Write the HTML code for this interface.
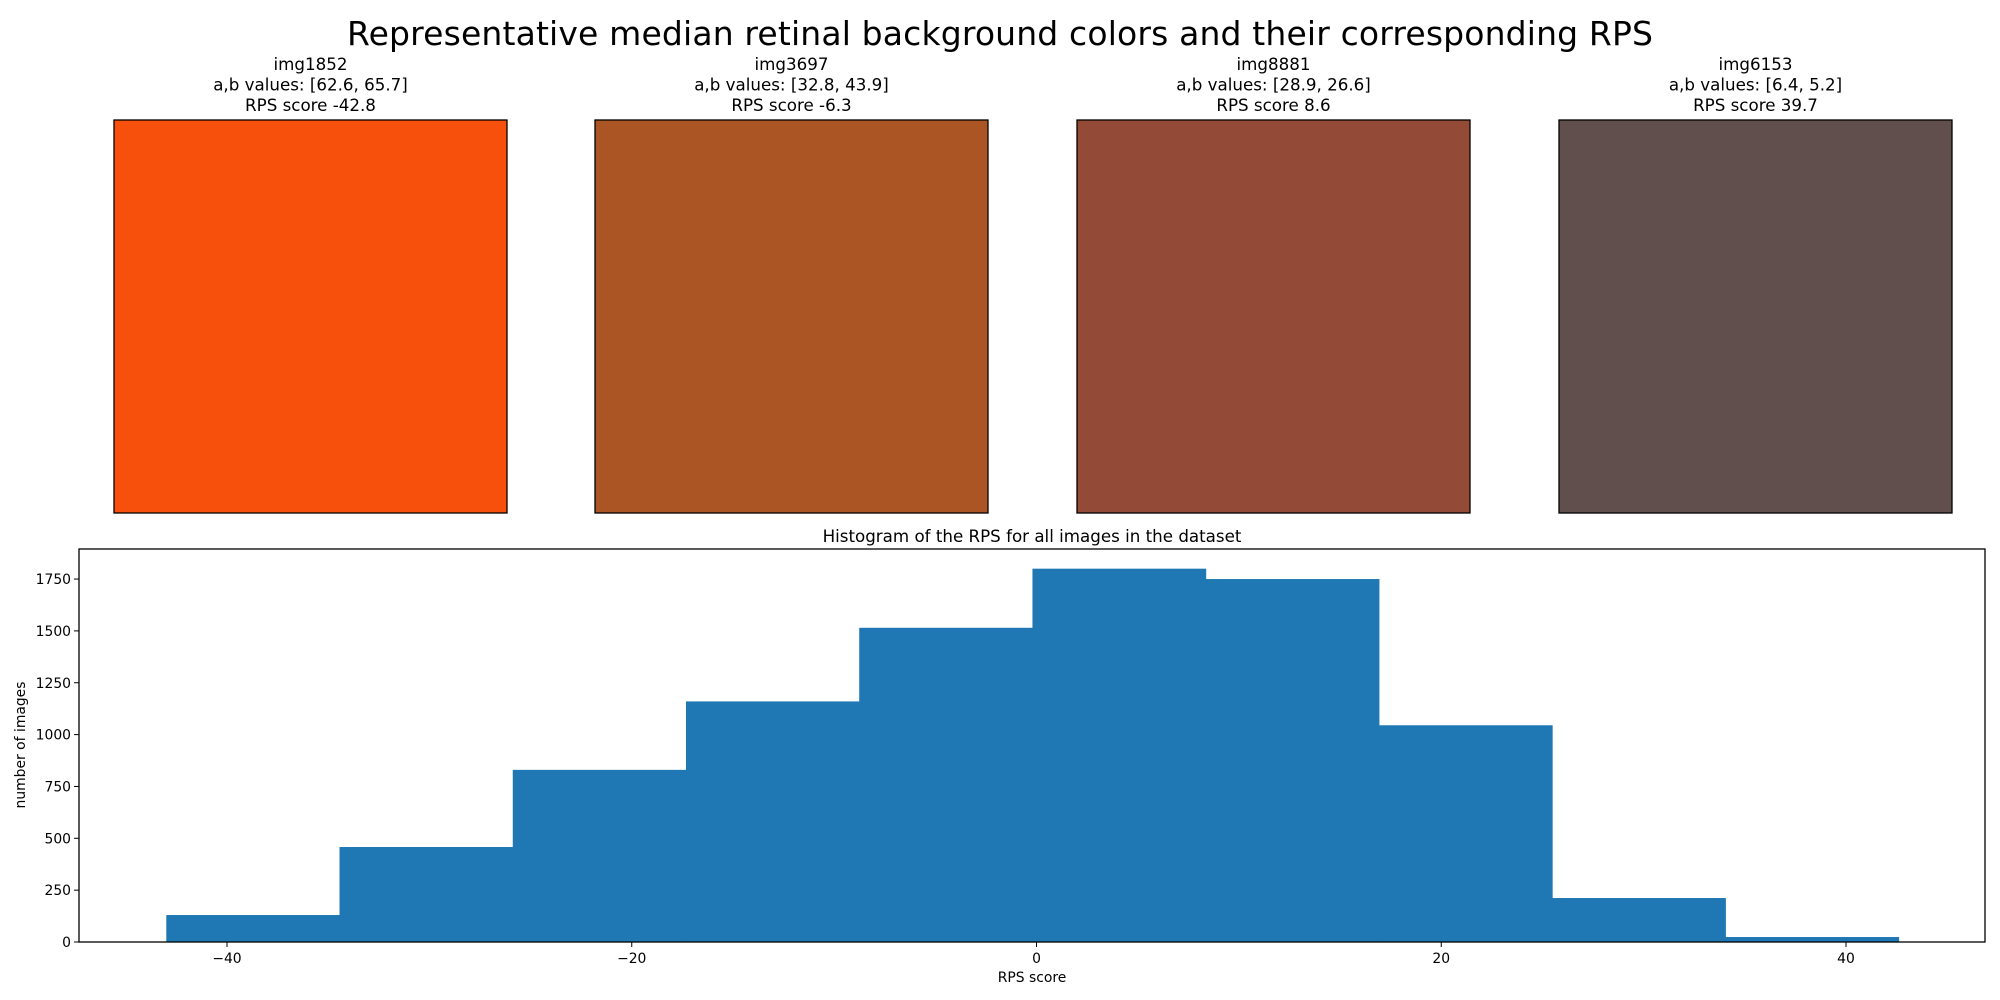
<!DOCTYPE html>
<html><head><meta charset="utf-8"><style>
html,body{margin:0;padding:0;background:#fff;}
svg{display:block;font-family:"DejaVu Sans","Liberation Sans",sans-serif;}
</style></head><body>
<svg id="fig" width="2000" height="1000" viewBox="0 0 2000 1000">
<text x="1000" y="45" font-size="33" text-anchor="middle" textLength="1306">Representative median retinal background colors and their corresponding RPS</text>
<g id="swatches"></g>
<text x="1032" y="542" font-size="16.7" text-anchor="middle">Histogram of the RPS for all images in the dataset</text>
<g id="hist"></g>
<rect x="79" y="549" width="1906" height="393" fill="none" stroke="#000" stroke-width="1.3"/>
<text x="1032" y="982" font-size="13.9" text-anchor="middle">RPS score</text>
<text transform="translate(25,745) rotate(-90)" font-size="13.9" text-anchor="middle">number of images</text>
</svg>
<script>
const swatchNames = ["img1852","img3697","img8881","img6153"];
const swatchAB = ["[62.6, 65.7]","[32.8, 43.9]","[28.9, 26.6]","[6.4, 5.2]"];
const swatchRPS = ["-42.8","-6.3","8.6","39.7"];
const swatchColors = ["#f74f0c","#aa5523","#934a37","#604f4c"];
const binStart = -43.0;
const binEnd = 42.6;
const counts = [130, 458, 830, 1160, 1515, 1800, 1750, 1045, 212, 24];
const xTicks = [-40, -20, 0, 20, 40];
const yTicks = [0, 250, 500, 750, 1000, 1250, 1500, 1750];

const NS = "http://www.w3.org/2000/svg";
function mk(tag, attrs, parent){const e=document.createElementNS(NS,tag);for(const k in attrs)e.setAttribute(k,attrs[k]);parent.appendChild(e);return e;}

const sw = document.getElementById('swatches');
const swLeft = [114, 595, 1077, 1559];
swatchNames.forEach((n,i)=>{
  const cx = swLeft[i] + 196.5;
  const r = mk('rect',{x:swLeft[i],y:120,width:393,height:393,fill:swatchColors[i],stroke:'#000','stroke-width':1.3},sw);
  
  
  const lines=[n,'a,b values: '+swatchAB[i],'RPS score '+swatchRPS[i]];
  lines.forEach((l,j)=>{
    const t = mk('text',{x:cx,y:70+j*20.5,'font-size':16.7,'text-anchor':'middle'},sw);
    t.textContent=l;
    
    
  });
});

const L=79,R=1985,T=549,B=942;
const xs = v => 1036.5 + v*20.2375;
const ys = v => B - v*0.2074;
const h = document.getElementById('hist');
const w = (binEnd-binStart)/counts.length;
counts.forEach((c,i)=>{
  const x0=xs(binStart+i*w), x1=xs(binStart+(i+1)*w);
  const r = mk('rect',{x:x0,y:ys(c),width:x1-x0+0.5,height:B-ys(c),fill:'#1f77b4'},h);
  
  
});
xTicks.forEach(v=>{
  const x=xs(v);
  const l = mk('line',{x1:x,x2:x,y1:B,y2:B+5,stroke:'#000','stroke-width':1},h);
  
  
  const t = mk('text',{x:x,y:B+21,'font-size':13.9,'text-anchor':'middle'},h);
  t.textContent = v<0 ? '\u2212'+Math.abs(v) : String(v);
  
  
});
yTicks.forEach(v=>{
  const y=ys(v);
  const l = mk('line',{x1:L-5,x2:L,y1:y,y2:y,stroke:'#000','stroke-width':1},h);
  
  
  const t = mk('text',{x:L-8,y:y+5,'font-size':13.9,'text-anchor':'end'},h);
  t.textContent = String(v);
  
  
});
</script>
</body></html>
